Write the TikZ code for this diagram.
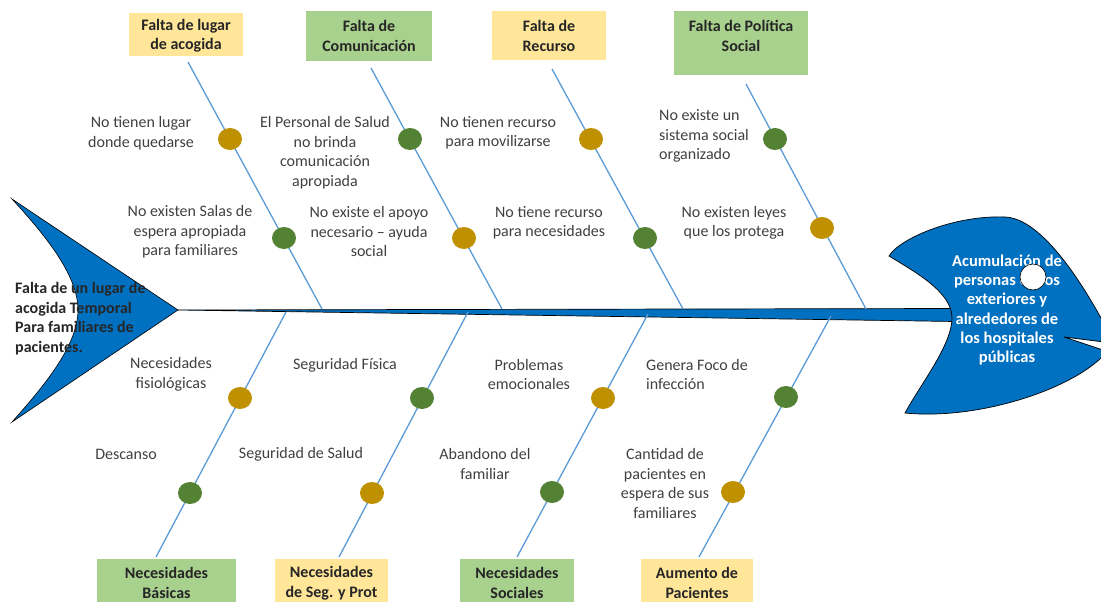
\documentclass[tikz,border=0pt]{standalone}
\usepackage{fontspec}
\setmainfont{Carlito}
\usetikzlibrary{shapes.geometric}
\definecolor{cBlue}{HTML}{0070C0}
\definecolor{cBone}{HTML}{5B9BD5}
\definecolor{cGold}{HTML}{BF9000}
\definecolor{cGreen}{HTML}{548235}
\definecolor{cYellowBox}{HTML}{FFE699}
\definecolor{cGreenBox}{HTML}{A9D18E}
\definecolor{cText}{HTML}{404040}

\begin{document}
\begin{tikzpicture}[x=1pt, y=-1pt,
      bone/.style={draw=cBone, line width=1.3pt},
      gdot/.style={ellipse, fill=cGold, minimum width=24pt, minimum height=22pt, inner sep=0pt},
      vdot/.style={ellipse, fill=cGreen, minimum width=24pt, minimum height=22pt, inner sep=0pt},
      ybox/.style={fill=cYellowBox, inner sep=0pt},
      gbox/.style={fill=cGreenBox, inner sep=0pt},
      hdtext/.style={font=\bfseries\fontsize{16}{19.5}\selectfont, text=black!85, align=center, inner sep=0pt},
      cause/.style={font=\fontsize{16}{19.5}\selectfont, text=cText, align=center, inner sep=0pt}]
      \useasboundingbox (0,0) rectangle (1101,602);
      \clip (0,0) rectangle (1101,602);
      % tail, spine and head
      \filldraw[fill=cBlue, draw=black, line width=0.6pt] (12,199) -- (178,310) -- (12,422)
        .. controls (45,385) and (78,345) .. (78,310) .. controls (78,275) and (45,235) .. (12,199) -- cycle;
      \coordinate (tip) at (178,310);
      \filldraw[fill=cBlue, draw=black, line width=0.7pt] (tip) -- (955,308.5) -- (955,321.5) -- cycle;
      \filldraw[fill=cBlue, draw=black, line width=0.7pt] (889,256)
        .. controls (900,238) and (955,215) .. (1005,217)
        .. controls (1035,218) and (1070,262) .. (1101,318) -- (1112,330) -- (1112,343)
        -- (1064,337) -- (1112,353) -- (1112,362) -- (1101,358)
        .. controls (1065,392) and (975,420) .. (905,413)
        .. controls (920,385) and (952,345) .. (952,318)
        .. controls (952,292) and (915,272) .. (889,256) -- cycle;
      \node[hdtext, text=white, font=\bfseries\fontsize{16.5}{19.3}\selectfont] (goal) at (1007,310)
        {Acumulación de\\personas en los\\exteriores y\\alrededores de\\los hospitales\\públicas};
      \node[circle, fill=white, draw=black, line width=0.6pt, minimum size=26pt, inner sep=0pt] (eye) at (1033,277) {};
      \node[hdtext, align=left, anchor=west] (problem) at (15,318.5)
        {Falta de un lugar de\\acogida Temporal\\Para familiares de\\pacientes.};
      % category boxes
      \node[ybox, minimum width=114pt, minimum height=43pt] (h1) at (186,34.5) {};
      \node[gbox, minimum width=126pt, minimum height=50pt] (h2) at (369,36) {};
      \node[ybox, minimum width=114pt, minimum height=49pt] (h3) at (549,35.5) {};
      \node[gbox, minimum width=134pt, minimum height=64pt] (h4) at (741,43) {};
      \node[hdtext] at (186,35.5) {Falta de lugar\\de acogida};
      \node[hdtext] at (369,36) {Falta de\\Comunicación};
      \node[hdtext] at (549,36) {Falta de\\Recurso};
      \node[hdtext] at (741,36) {Falta de Política\\Social};
      \node[gbox, minimum width=139pt, minimum height=51pt] (f1) at (166.5,584.5) {};
      \node[ybox, minimum width=113pt, minimum height=51pt] (f2) at (331.5,584.5) {};
      \node[gbox, minimum width=114pt, minimum height=51pt] (f3) at (517,584.5) {};
      \node[ybox, minimum width=112pt, minimum height=51pt] (f4) at (697,584.5) {};
      \node[hdtext] at (166.5,583) {Necesidades\\Básicas};
      \node[hdtext] at (331.5,583) {Necesidades\\de Seg. y Prot};
      \node[hdtext] at (517,583) {Necesidades\\Sociales};
      \node[hdtext] at (697,583) {Aumento de\\Pacientes};
      % bones
      \coordinate (t1) at (188,62);  \coordinate (s1) at (322,309);
      \coordinate (t2) at (371,68);  \coordinate (s2) at (502,309);
      \coordinate (t3) at (552,69);  \coordinate (s3) at (683,309);
      \coordinate (t4) at (746,84);  \coordinate (s4) at (866,309);
      \coordinate (u1) at (286,312); \coordinate (b1) at (156,557);
      \coordinate (u2) at (468,312); \coordinate (b2) at (339,557);
      \coordinate (u3) at (648,314); \coordinate (b3) at (517,557);
      \coordinate (u4) at (831,316); \coordinate (b4) at (699,557);
      \draw[bone] (t1) -- (s1);
      \draw[bone] (t2) -- (s2);
      \draw[bone] (t3) -- (s3);
      \draw[bone] (t4) -- (s4);
      \draw[bone] (u1) -- (b1);
      \draw[bone] (u2) -- (b2);
      \draw[bone] (u3) -- (b3);
      \draw[bone] (u4) -- (b4);
      % dots
      \node[gdot] (d11) at (230,139) {};
      \node[vdot] (d12) at (284,238) {};
      \node[vdot] (d21) at (410,139) {};
      \node[gdot] (d22) at (464,238) {};
      \node[gdot] (d31) at (591,139) {};
      \node[vdot] (d32) at (645,238) {};
      \node[vdot] (d41) at (775,139) {};
      \node[gdot] (d42) at (822,228) {};
      \node[gdot] (e11) at (240,398) {};
      \node[vdot] (e12) at (190,493) {};
      \node[vdot] (e21) at (422,398) {};
      \node[gdot] (e22) at (372,493) {};
      \node[gdot] (e31) at (603,398) {};
      \node[vdot] (e32) at (552,492) {};
      \node[vdot] (e41) at (786,397) {};
      \node[gdot] (e42) at (733,492) {};
      % causes
      \node[cause] (c11) at (141,133) {No tienen lugar\\donde quedarse};
      \node[cause] (c12) at (190,232) {No existen Salas de\\espera apropiada\\para familiares};
      \node[cause] (c21) at (325,152.5) {El Personal de Salud\\no brinda\\comunicación\\apropiada};
      \node[cause] (c22) at (369,232) {No existe el apoyo\\necesario -- ayuda\\social};
      \node[cause] (c31) at (498,133) {No tienen recurso\\para movilizarse};
      \node[cause] (c32) at (549,223) {No tiene recurso\\para necesidades};
      \node[cause, align=left, anchor=west] (c41) at (659,136) {No existe un\\sistema social\\organizado};
      \node[cause] (c42) at (734,223) {No existen leyes\\que los protega};
      \node[cause] (k11) at (171,374.5) {Necesidades\\fisiológicas};
      \node[cause] (k12) at (126,454) {Descanso};
      \node[cause] (k21) at (345,365) {Seguridad Física};
      \node[cause] (k22) at (301,454) {Seguridad de Salud};
      \node[cause] (k31) at (529,374.5) {Problemas\\emocionales};
      \node[cause] (k32) at (485,464) {Abandono del\\familiar};
      \node[cause, align=left, anchor=west] (k41) at (646,374.5) {Genera Foco de\\infección};
      \node[cause] (k42) at (665,483.5) {Cantidad de\\pacientes en\\espera de sus\\familiares};
\end{tikzpicture}
\end{document}
